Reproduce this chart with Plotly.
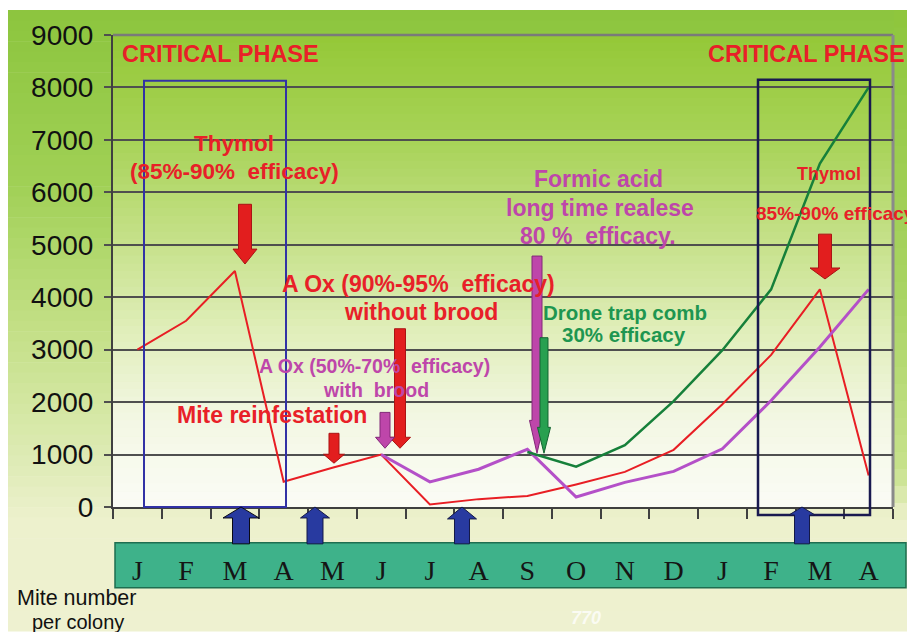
import plotly.graph_objects as go

# ---------------- data ----------------
months = ["J", "F", "M", "A", "M", "J", "J", "A", "S", "O", "N", "D", "J", "F", "M", "A"]
x_idx = list(range(len(months)))
red_vals = [3000, 3550, 4500, 480, 750, 1000, 50, 150, 210, 430, 670, 1090, 1960, 2900, 4150, 600]
purple_vals = [None, None, None, None, None, 1000, 480, 720, 1100, 190, 470, 680, 1110, 2030, 3050, 4150]
green_vals = [None, None, None, None, None, None, None, None, 1050, 770, 1180, 2020, 2990, 4150, 6550, 8000]
y_ticks = [0, 1000, 2000, 3000, 4000, 5000, 6000, 7000, 8000, 9000]

# ---------------- geometry helpers (page pixels -> paper) ----------------
OFF = 8                      # browser body margin
W, H = 915 - OFF, 632 - OFF  # figure size
L, R, T, B = 113, 893, 33, 507  # plot area in page pixels


def PX(p):
    return (p - L) / (R - L)


def PY(p):
    return (B - p) / (B - T)


def lerp_color(stops, p):
    if p <= stops[0][0]:
        return stops[0][1]
    for (p0, c0), (p1, c1) in zip(stops[:-1], stops[1:]):
        if p0 <= p <= p1:
            t = (p - p0) / (p1 - p0)
            return tuple(round(a + (b - a) * t) for a, b in zip(c0, c1))
    return stops[-1][1]


shapes = []


def gradient(x0, x1, y0, y1, stops, n):
    h = (y1 - y0) / n
    for i in range(n):
        ya = y0 + i * h
        yb = ya + h + 0.6
        c = lerp_color(stops, ya + h / 2)
        shapes.append(dict(type="rect", xref="paper", yref="paper",
                           x0=PX(x0), x1=PX(x1), y0=PY(min(yb, y1)), y1=PY(ya),
                           fillcolor="rgb(%d,%d,%d)" % c, line=dict(width=0), layer="below"))


# outer background
gradient(OFF, 915, OFF, 632, [(8, (140, 197, 62)), (180, (160, 208, 85)), (330, (196, 224, 135)),
                              (470, (224, 236, 185)), (520, (237, 241, 205)), (632, (238, 241, 208))], 60)
# right strip
gradient(894, 915, OFF, 520, [(8, (142, 198, 60)), (300, (170, 212, 100)), (470, (200, 226, 140)),
                              (520, (237, 241, 205))], 30)
# plot area
gradient(L, R, T, B, [(33, (148, 200, 55)), (140, (168, 211, 88)), (240, (198, 225, 138)),
                      (330, (224, 238, 186)), (420, (243, 247, 228)), (507, (251, 252, 246))], 60)


def arrow(cx, y_tail, y_base, y_tip, sw, hw, fill, edge):
    pts = [(cx - sw / 2, y_tail), (cx + sw / 2, y_tail), (cx + sw / 2, y_base), (cx + hw / 2, y_base),
           (cx, y_tip), (cx - hw / 2, y_base), (cx - sw / 2, y_base)]
    path = "M " + " L ".join("%.5f,%.5f" % (PX(a), PY(b)) for a, b in pts) + " Z"
    shapes.append(dict(type="path", xref="paper", yref="paper", path=path, fillcolor=fill,
                       line=dict(color=edge, width=1), layer="above"))


# teal month band
shapes.append(dict(type="rect", xref="paper", yref="paper", x0=PX(115), x1=PX(906), y0=PY(588), y1=PY(543),
                   fillcolor="rgb(62,178,138)", line=dict(color="rgb(30,110,80)", width=1.5), layer="below"))

# frame top / right
shapes.append(dict(type="line", xref="paper", yref="paper", x0=0, x1=1, y0=1, y1=1,
                   line=dict(color="#7a7a7a", width=2.5), layer="below"))
shapes.append(dict(type="line", xref="paper", yref="paper", x0=1, x1=1, y0=0, y1=1,
                   line=dict(color="#8a8a8a", width=3), layer="below"))

# critical phase boxes
shapes.append(dict(type="rect", xref="paper", yref="paper", x0=PX(144), x1=PX(286), y0=PY(507), y1=PY(79),
                   line=dict(color="rgb(50,50,165)", width=2), layer="above"))
shapes.append(dict(type="rect", xref="paper", yref="paper", x0=PX(758), x1=PX(870), y0=PY(515), y1=PY(78),
                   line=dict(color="rgb(25,25,80)", width=2.5), layer="above"))

# red treatment arrows
RED_F, RED_E = "rgb(226,30,30)", "rgb(170,20,20)"
arrow(245, 203, 248, 263, 13, 24, RED_F, RED_E)
arrow(334, 433, 454, 463, 10, 21, RED_F, RED_E)
arrow(400, 328, 437, 448, 11, 21, RED_F, RED_E)
arrow(825, 233, 267, 278, 13, 30, RED_F, RED_E)
# purple arrows
arrow(385, 412, 437, 448, 10, 19, "rgb(190,70,170)", "rgb(130,40,120)")
arrow(537, 255, 420, 453, 10, 15, "rgb(190,70,170)", "rgb(130,40,120)")
# green arrow
arrow(544, 337, 427, 453, 8, 13, "rgb(40,160,80)", "rgb(20,100,50)")
# blue up arrows
BLU_F, BLU_E = "rgb(40,58,160)", "rgb(20,25,70)"
arrow(241, 544, 518, 507, 17, 36, BLU_F, "rgb(10,10,20)")
arrow(315, 544, 518, 507, 16, 29, BLU_F, BLU_E)
arrow(462, 544, 519, 507, 15, 29, BLU_F, BLU_E)
arrow(802, 544, 515, 507, 15, 26, BLU_F, BLU_E)

# ---------------- annotations ----------------
annotations = []
SANS = "Liberation Sans, Arial, sans-serif"


def ann(text, xc, yc, size, color, bold=True, family=SANS):
    t = "<b>%s</b>" % text if bold else text
    annotations.append(dict(text=t, x=PX(xc), y=PY(yc), xref="paper", yref="paper",
                            xanchor="center", yanchor="middle", showarrow=False,
                            font=dict(size=size, color=color, family=family)))


RED_T = "rgb(232,32,40)"
PUR_T = "rgb(190,70,170)"
GRN_T = "rgb(30,150,80)"
ann("CRITICAL PHASE", 220, 52, 23.5, RED_T)
ann("CRITICAL PHASE", 806, 52, 23.5, RED_T)
ann("Thymol", 234, 142, 22.5, RED_T)
ann("(85%-90%  efficacy)", 234, 170, 22.5, RED_T)
ann("A Ox (90%-95%  efficacy)", 418, 283, 23, RED_T)
ann("without brood", 421, 311, 23, RED_T)
ann("A Ox (50%-70%  efficacy)", 374, 365, 19.5, PUR_T)
ann("with  brood", 376, 390, 19.5, PUR_T)
ann("Mite reinfestation", 272, 415, 23, RED_T)
ann("Formic acid", 598, 178, 23, PUR_T)
ann("long time realese", 600, 207, 23, PUR_T)
ann("80 %  efficacy.", 598, 235, 23, PUR_T)
ann("Drone trap comb", 625, 312, 20.5, GRN_T)
ann("30% efficacy", 624, 334, 20.5, GRN_T)
ann("Thymol", 829, 173, 18, RED_T)
ann("85%-90% efficacy", 835, 212, 19, RED_T)
ann("Mite number", 77, 598, 21.5, "#111111", bold=False)
ann("per colony", 78, 622, 20, "#111111", bold=False)
ann("<i>770</i>", 586, 618, 18, "rgba(255,255,255,0.75)")

# ---------------- traces ----------------
fig = go.Figure()
fig.add_trace(go.Scatter(x=x_idx, y=red_vals, mode="lines", line=dict(color="rgb(232,30,36)", width=2),
                         name="Thymol / A Ox"))
fig.add_trace(go.Scatter(x=x_idx, y=purple_vals, mode="lines", line=dict(color="rgb(180,80,200)", width=3),
                         name="Formic acid", connectgaps=False))
fig.add_trace(go.Scatter(x=x_idx, y=green_vals, mode="lines", line=dict(color="rgb(22,128,58)", width=2.5),
                         name="Drone trap comb", connectgaps=False))

fig.update_layout(
    width=W, height=H,
    margin=dict(l=L - OFF, r=915 - R, t=T - OFF, b=632 - B, pad=0),
    paper_bgcolor="white",
    plot_bgcolor="rgba(0,0,0,0)",
    showlegend=False,
    shapes=shapes,
    annotations=annotations,
    xaxis=dict(
        range=[-0.5, len(months) - 0.5],
        tickmode="array", tickvals=x_idx, ticktext=months,
        ticks="", showgrid=False, zeroline=False,
        showline=True, linecolor="#404040", linewidth=2,
        tickfont=dict(family="Liberation Serif, Times New Roman, serif", size=28, color="#151515"),
        ticklabelstandoff=37,
        minor=dict(tickmode="array", tickvals=[i - 0.5 for i in range(len(months) + 1)],
                   ticks="outside", ticklen=10, tickwidth=1.5, tickcolor="#404040", showgrid=False),
    ),
    yaxis=dict(
        range=[0, 9000], tickmode="array", tickvals=y_ticks,
        showgrid=True, gridcolor="#4f4f4f", gridwidth=1.5,
        ticks="outside", ticklen=7, tickcolor="#4f4f4f", tickwidth=1.5,
        showline=True, linecolor="#404040", linewidth=2, zeroline=False,
        tickfont=dict(family="Liberation Sans, Arial", size=28, color="#111111"),
        ticklabelstandoff=5,
    ),
)

fig.write_html("out.html")
